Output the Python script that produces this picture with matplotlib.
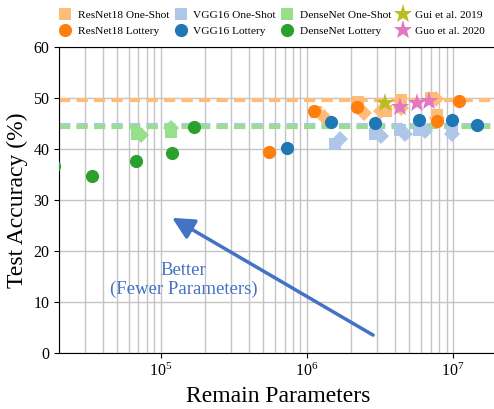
import matplotlib
matplotlib.use('Agg')
import matplotlib.pyplot as plt

plt.rcParams['font.family'] = 'Liberation Serif'
plt.rcParams['mathtext.fontset'] = 'custom'
plt.rcParams['mathtext.rm'] = 'Liberation Serif'
plt.rcParams['mathtext.it'] = 'Liberation Serif:italic'

# one-shot results: each point is a square plus an overlapping diamond ("tip")
resnet_os_params = [1.15e6, 2.23e6, 3.47e6, 4.4e6, 7.06e6, 7.77e6]
resnet_os_acc = [47.3, 49.2, 47.5, 49.6, 50.0, 46.7]
resnet_os_tip_params = [1.31e6, 2.45e6, 3.21e6, 4.4e6, 7.66e6, 7.77e6]
resnet_os_tip_acc = [46.3, 47.1, 47.5, 48.0, 49.8, 46.1]

vgg_os_params = [1.56e6, 2.92e6, 4.34e6, 5.85e6, 9.84e6]
vgg_os_acc = [41.0, 42.9, 43.7, 43.7, 43.7]
vgg_os_tip_params = [1.68e6, 3.21e6, 4.69e6, 6.43e6, 9.84e6]
vgg_os_tip_acc = [42.0, 42.5, 42.9, 43.5, 42.9]

dense_os_params = [6.85e4, 1.17e5]
dense_os_acc = [42.9, 43.3]
dense_os_tip_params = [7.3e4, 1.17e5]
dense_os_tip_acc = [42.7, 44.1]

# lottery ticket results
resnet_lt_params = [5.5e5, 1.12e6, 2.2e6, 7.77e6, 1.1e7]
resnet_lt_acc = [39.4, 47.5, 48.2, 45.5, 49.4]

vgg_lt_params = [7.3e5, 1.46e6, 2.92e6, 5.85e6, 9.85e6, 1.46e7]
vgg_lt_acc = [40.2, 45.3, 45.1, 45.7, 45.7, 44.7]

dense_lt_params = [1.85e4, 3.37e4, 6.74e4, 1.19e5, 1.68e5]
dense_lt_acc = [36.7, 34.7, 37.6, 39.2, 44.3]

# other methods
gui_params = [3.42e6]
gui_acc = [49.0]
guo_params = [4.34e6, 5.66e6, 6.85e6]
guo_acc = [48.2, 49.0, 49.4]

# dense (unpruned) baselines
resnet_full = 49.6
vgg_full = 44.7
dense_full = 44.3

fig = plt.figure(figsize=(4.94, 4.09), dpi=100)
ax = fig.add_axes([0.1194, 0.137, 0.887, 0.748])

ax.axhline(resnet_full, color='#ffbb78', lw=3, dashes=(2.7, 1.5), zorder=1)
ax.axhline(vgg_full, color='#aec7e8', lw=3, dashes=(2.7, 1.5), zorder=1)
ax.axhline(dense_full, color='#98df8a', lw=3, dashes=(2.7, 1.5), zorder=1)

ms = 9
ax.plot(resnet_os_tip_params, resnet_os_tip_acc, 'D', color='#ffbb78', ms=ms * 0.85, mew=0, zorder=2)
ax.plot(vgg_os_tip_params, vgg_os_tip_acc, 'D', color='#aec7e8', ms=ms * 0.85, mew=0, zorder=2)
ax.plot(dense_os_tip_params, dense_os_tip_acc, 'D', color='#98df8a', ms=ms * 0.85, mew=0, zorder=2)

h1, = ax.plot(resnet_os_params, resnet_os_acc, 's', color='#ffbb78', ms=ms, mew=0, zorder=2, label='ResNet18 One-Shot')
h3, = ax.plot(vgg_os_params, vgg_os_acc, 's', color='#aec7e8', ms=ms, mew=0, zorder=2, label='VGG16 One-Shot')
h5, = ax.plot(dense_os_params, dense_os_acc, 's', color='#98df8a', ms=ms, mew=0, zorder=2, label='DenseNet One-Shot')

h2, = ax.plot(resnet_lt_params, resnet_lt_acc, 'o', color='#ff7f0e', ms=ms + 0.5, mew=0, zorder=3, label='ResNet18 Lottery')
h4, = ax.plot(vgg_lt_params, vgg_lt_acc, 'o', color='#1f77b4', ms=ms + 0.5, mew=0, zorder=3, label='VGG16 Lottery')
h6, = ax.plot(dense_lt_params, dense_lt_acc, 'o', color='#2ca02c', ms=ms + 0.5, mew=0, zorder=3, label='DenseNet Lottery')

h7, = ax.plot(gui_params, gui_acc, '*', color='#bcbd22', ms=ms + 5, mew=0, zorder=4, label='Gui et al. 2019')
h8, = ax.plot(guo_params, guo_acc, '*', color='#e377c2', ms=ms + 5, mew=0, zorder=4, label='Guo et al. 2020')

ax.set_xscale('log')
ax.set_xlim(2e4, 2e7)
ax.set_ylim(0, 60)
ax.set_yticks(range(0, 61, 10))
ax.grid(True, which='major', axis='both', color='#c4c4c4', lw=1, zorder=0)
ax.grid(True, which='minor', axis='x', color='#c4c4c4', lw=1, zorder=0)
ax.set_axisbelow(True)
ax.tick_params(labelsize=11.5)
ax.tick_params(which='minor', length=0)
ax.spines['right'].set_visible(False)

ax.set_xlabel('Remain Parameters', fontsize=17)
ax.set_ylabel('Test Accuracy (%)', fontsize=17)

ax.annotate('', xy=(1.19e5, 26.5), xytext=(2.83e6, 3.5),
            arrowprops=dict(arrowstyle='-|>,head_length=0.6,head_width=0.3',
                            color='#4472c4', lw=2.5, mutation_scale=22, shrinkA=0, shrinkB=0))
ax.text(1.42e5, 14.3, 'Better\n(Fewer Parameters)', color='#4472c4', fontsize=13.5,
        ha='center', va='center', linespacing=1.1)

fig.legend(handles=[h1, h2, h3, h4, h5, h6, h7, h8], ncol=4, loc='upper center',
           bbox_to_anchor=(0.55, 1.0), frameon=False, fontsize=8.2,
           handletextpad=0.5, columnspacing=0.4, labelspacing=0.5, handlelength=1.2)

fig.savefig('out.png', dpi=100)
